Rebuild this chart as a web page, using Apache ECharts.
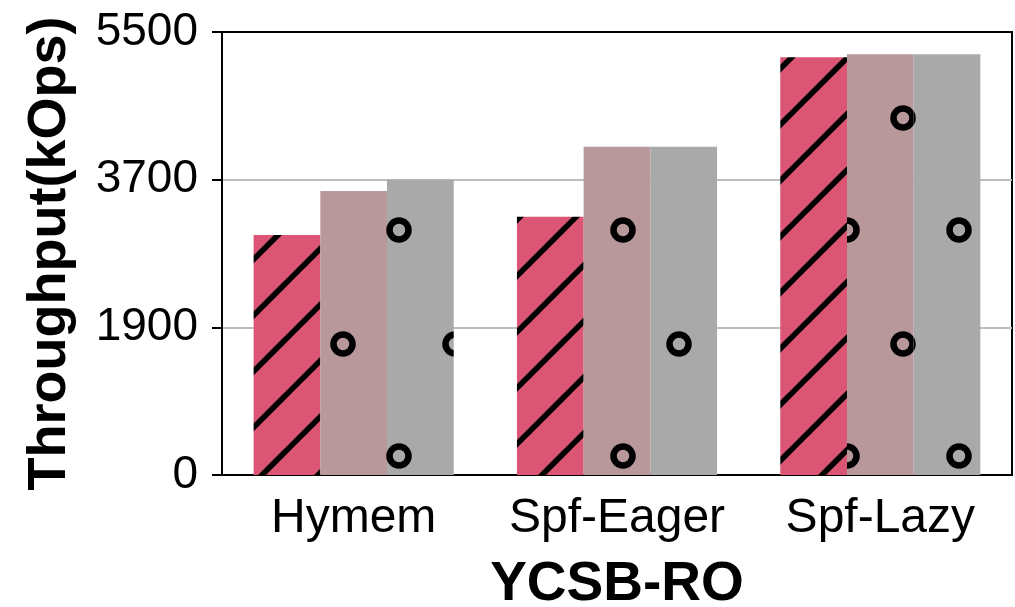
<!DOCTYPE html>
<html>
<head>
<meta charset="utf-8">
<title>YCSB-RO throughput</title>
<script src="https://cdn.jsdelivr.net/npm/echarts@6/dist/echarts.min.js"></script>
<style>
  html, body { margin: 0; padding: 0; background: #fff; }
  #chart { width: 1015px; height: 607px; }
</style>
</head>
<body>
<div id="chart"></div>
<script>
// Systems compared on the read-only YCSB workload
const categories = ['Hymem', 'Spf-Eager', 'Spf-Lazy'];

// Throughput in kOps for the three bars of each group
const seriesA = [2980, 3207, 5186];
const seriesB = [3526, 4076, 5223];
const seriesC = [3667, 4076, 5223];

// Y axis: four evenly spaced ticks, printed with these labels
const yMax = 5500;
const yTickLabels = ['0', '1900', '3700', '5500'];

const FONT = '"Liberation Sans", Arial, Helvetica, sans-serif';

// Diagonal "/" hatch on a solid background
function stripePattern(bg) {
  const size = 56, phase = 9;
  const c = document.createElement('canvas');
  c.width = size; c.height = size;
  const g = c.getContext('2d');
  g.fillStyle = bg;
  g.fillRect(0, 0, size, size);
  g.strokeStyle = '#000';
  g.lineWidth = 5.5;
  g.lineCap = 'butt';
  for (let k = -1; k <= 2; k++) {
    const s = phase + k * size;         // line: x + y = s
    g.beginPath();
    g.moveTo(-size, s + size);
    g.lineTo(s + size, -size);
    g.stroke();
  }
  return { image: c, repeat: 'repeat' };
}

// Staggered ring hatch on a solid background
function ringPattern(bg) {
  const w = 112, h = 226;
  const c = document.createElement('canvas');
  c.width = w; c.height = h;
  const g = c.getContext('2d');
  g.fillStyle = bg;
  g.fillRect(0, 0, w, h);
  g.strokeStyle = '#000';
  g.lineWidth = 6.5;
  const centers = [[7, 118], [63, 4]];
  centers.forEach(([cx, cy]) => {
    for (let dx = -1; dx <= 1; dx++) {
      for (let dy = -1; dy <= 1; dy++) {
        g.beginPath();
        g.arc(cx + dx * w, cy + dy * h, 9.5, 0, Math.PI * 2);
        g.stroke();
      }
    }
  });
  return { image: c, repeat: 'repeat' };
}

const barStyle = (fill) => ({ color: fill, borderWidth: 0 });

const chart = echarts.init(document.getElementById('chart'), null, { renderer: 'canvas' });

chart.setOption({
  animation: false,
  backgroundColor: '#fff',
  grid: {
    left: 222, right: 3, top: 32, bottom: 132,
    outerBoundsMode: 'none',
    containLabel: false,
    show: true, borderColor: '#000', borderWidth: 2, backgroundColor: 'transparent'
  },
  xAxis: {
    type: 'category',
    data: categories,
    name: 'YCSB-RO',
    nameLocation: 'middle',
    nameGap: 82,
    nameTextStyle: { fontFamily: FONT, fontSize: 55, fontWeight: 'bold', color: '#000' },
    axisLine: { lineStyle: { color: '#000', width: 2 } },
    axisTick: { alignWithLabel: true, length: 10, lineStyle: { color: '#000', width: 2 } },
    axisLabel: { interval: 0, margin: 20, fontFamily: FONT, fontSize: 48, color: '#000' },
    splitLine: { show: false }
  },
  yAxis: {
    type: 'value',
    min: 0,
    max: yMax,
    interval: yMax / 3,
    name: 'Throughput(kOps)',
    nameLocation: 'middle',
    nameGap: 145,
    nameTextStyle: { fontFamily: FONT, fontSize: 54, fontWeight: 'bold', color: '#000' },
    axisLine: { show: true, lineStyle: { color: '#000', width: 2 } },
    axisTick: { show: true, length: 10, lineStyle: { color: '#000', width: 2 } },
    axisLabel: {
      margin: 24,
      fontFamily: FONT,
      fontSize: 46,
      color: '#000',
      formatter: (v) => yTickLabels[Math.round(v / (yMax / 3))]
    },
    splitLine: { show: true, lineStyle: { color: ['#000', '#bdbdbd', '#bdbdbd', '#000'], width: 2 } }
  },
  series: [
    {
      name: 'A', type: 'bar', data: seriesA,
      barWidth: 66.7, barGap: '0%',
      itemStyle: barStyle(stripePattern('#DB5574')),
      emphasis: { disabled: true }
    },
    {
      name: 'B', type: 'bar', data: seriesB,
      barWidth: 66.7, barGap: '0%',
      itemStyle: barStyle(ringPattern('#B8989A')),
      emphasis: { disabled: true }
    },
    {
      name: 'C', type: 'bar', data: seriesC,
      barWidth: 66.7, barGap: '0%',
      itemStyle: barStyle(ringPattern('#A9A9A9')),
      emphasis: { disabled: true }
    }
  ]
});
</script>
</body>
</html>
